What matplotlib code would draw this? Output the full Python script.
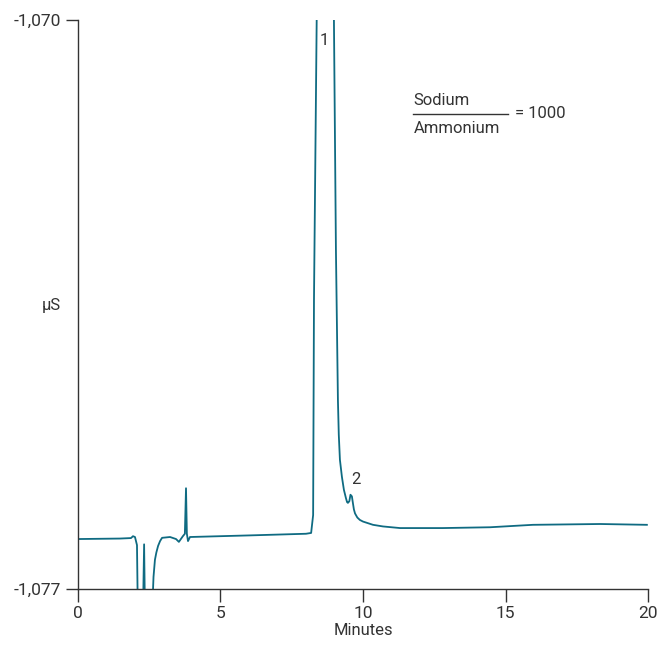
import matplotlib.pyplot as plt

plt.rcParams['font.family'] = ['Roboto', 'DejaVu Sans']

# chromatogram trace (minutes, µS)
minutes = [0.0, 1.47, 1.86, 1.93, 2.0, 2.07, 2.1, 2.28, 2.32, 2.35, 2.6, 2.65, 2.7,
           2.75, 2.81, 2.88, 2.95, 3.23, 3.44, 3.54, 3.68, 3.75, 3.79, 3.82, 3.86,
           3.93, 6.04, 8.0, 8.18, 8.25, 8.28, 8.65, 8.98, 9.05, 9.12, 9.15, 9.19,
           9.26, 9.33, 9.40, 9.44, 9.47, 9.52, 9.56, 9.61, 9.64, 9.68, 9.72, 9.80,
           9.89, 10.0, 10.35, 10.7, 11.3, 12.8, 14.46, 15.96, 18.32, 19.96]
signal = [-1076.385, -1076.379, -1076.373, -1076.35, -1076.36, -1076.46, -1077.3,
          -1077.3, -1076.45, -1077.3, -1077.3, -1076.85, -1076.64, -1076.55,
          -1076.47, -1076.41, -1076.37, -1076.36, -1076.385, -1076.42, -1076.35,
          -1076.32, -1075.76, -1076.32, -1076.41, -1076.36, -1076.34, -1076.32,
          -1076.31, -1076.09, -1073.44, -1060.0, -1070.0, -1072.83, -1074.68,
          -1075.1, -1075.41, -1075.62, -1075.78, -1075.88, -1075.93, -1075.94,
          -1075.92, -1075.84, -1075.86, -1075.93, -1076.02, -1076.07, -1076.12,
          -1076.15, -1076.17, -1076.21, -1076.23, -1076.25, -1076.25, -1076.24,
          -1076.21, -1076.2, -1076.21]

peak_labels = ['1', '2']
peak_pos = [(8.65, -1070.25), (9.75, -1075.65)]

fig = plt.figure(figsize=(6.62, 6.47), dpi=100)
ax = fig.add_axes([0.1178, 0.0896, 0.8611, 0.8794])

ax.plot(minutes, signal, color='#0f6b82', lw=1.3, clip_on=True)
ax.set_xlim(0, 20)
ax.set_ylim(-1077, -1070)

ax.set_xticks([0, 5, 10, 15, 20])
ax.set_yticks([-1077, -1070])
ax.set_yticklabels(['-1,077', '-1,070'])
for s in ['top', 'right']:
    ax.spines[s].set_visible(False)
for s in ['left', 'bottom']:
    ax.spines[s].set_color('#333333')
    ax.spines[s].set_linewidth(1.0)
ax.tick_params(direction='out', length=9, width=1.0, color='#333333',
               labelsize=12.5, labelcolor='#333333', pad=3)

ax.set_xlabel('Minutes', fontsize=12, color='#333333', labelpad=2)
fig.text(0.078, 0.528, 'µS', fontsize=12, color='#333333', ha='center', va='center')

for lab, (x, y) in zip(peak_labels, peak_pos):
    ax.text(x, y, lab, fontsize=12, color='#333333', ha='center', va='center')

# ratio annotation
fig.text(0.625, 0.845, 'Sodium', fontsize=12, color='#333333', ha='left', va='center')
fig.text(0.625, 0.802, 'Ammonium', fontsize=12, color='#333333', ha='left', va='center')
fig.add_artist(plt.Line2D([0.624, 0.767], [0.824, 0.824], color='#333333', lw=1.0))
fig.text(0.778, 0.824, '= 1000', fontsize=12, color='#333333', ha='left', va='center')

fig.savefig('out.png', dpi=100)
